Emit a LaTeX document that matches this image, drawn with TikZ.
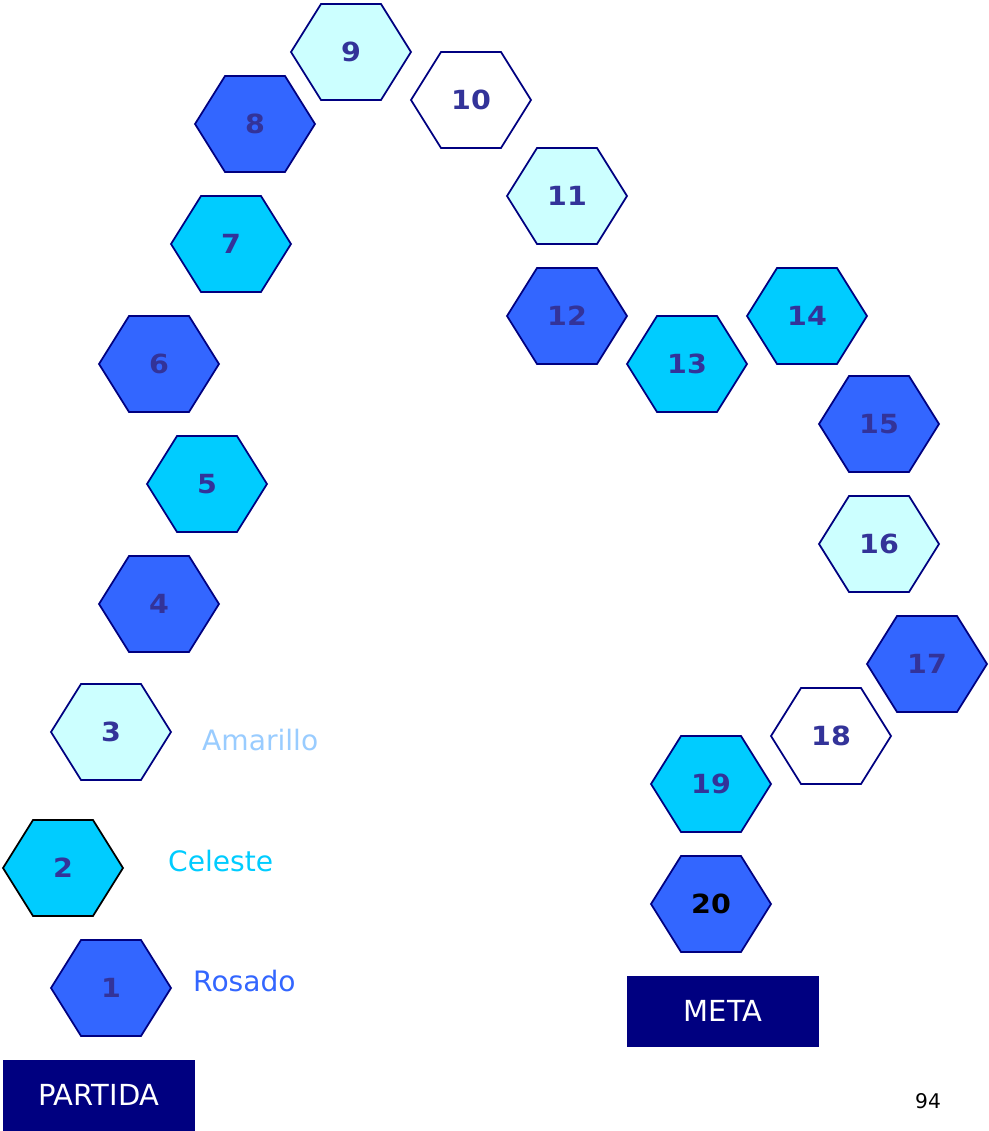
\documentclass[tikz,border=0pt]{standalone}
\usepackage{fontspec}
\setmainfont{DejaVu Sans}
\usepackage{xcolor}
\usepackage{tikz}
\usetikzlibrary{shapes.geometric}

\definecolor{rosado}{HTML}{3366FF}
\definecolor{celeste}{HTML}{00CCFF}
\definecolor{amarillo}{HTML}{CCFFFF}
\definecolor{claro}{HTML}{99CCFF}
\definecolor{marino}{HTML}{000080}
\definecolor{numero}{HTML}{333399}

\tikzset{
  casilla/.style={regular polygon, regular polygon sides=6, minimum size=2.217cm,
    inner sep=0pt, xscale=1.0825, draw=marino, line width=1pt, fill=white,
    text=numero, font=\fontsize{15}{18}\selectfont\bfseries},
  rosa/.style={casilla, fill=rosado},
  cel/.style={casilla, fill=celeste},
  ama/.style={casilla, fill=amarillo},
  leyenda/.style={anchor=west, font=\fontsize{16}{19}\selectfont},
  caja/.style={fill=marino, text=white, minimum width=3.84cm, minimum height=1.42cm,
    inner sep=0pt, font=\fontsize{16.5}{19}\selectfont}
}

\begin{document}
\begin{tikzpicture}[x=0.02cm,y=-0.02cm]
\useasboundingbox (0,0) rectangle (989,1131);

\node[rosa] (c1) at (111,988) {1};
\node[cel, draw=black] (c2) at (63,868) {2};
\node[ama] (c3) at (111,732) {3};
\node[rosa] (c4) at (159,604) {4};
\node[cel] (c5) at (207,484) {5};
\node[rosa] (c6) at (159,364) {6};
\node[cel] (c7) at (231,244) {7};
\node[rosa] (c8) at (255,124) {8};
\node[ama] (c9) at (351,52) {9};
\node[casilla] (c10) at (471,100) {10};

\node[ama] (c11) at (567,196) {11};
\node[rosa] (c12) at (567,316) {12};
\node[cel] (c13) at (687,364) {13};
\node[cel] (c14) at (807,316) {14};
\node[rosa] (c15) at (879,424) {15};
\node[ama] (c16) at (879,544) {16};
\node[rosa] (c17) at (927,664) {17};
\node[casilla] (c18) at (831,736) {18};
\node[cel] (c19) at (711,784) {19};
\node[rosa, text=black] (c20) at (711,904) {20};

\node[leyenda, text=claro] (amarillo) at (196,740) {Amarillo};
\node[leyenda, text=celeste] (celeste) at (162,861) {Celeste};
\node[leyenda, text=rosado] (rosado) at (187,981) {Rosado};

\node[caja] (partida) at (99,1095) {PARTIDA};
\node[caja] (meta) at (723,1011) {META};
\node[font=\fontsize{11.5}{14}\selectfont] (pagina) at (928,1101) {94};
\end{tikzpicture}
\end{document}
